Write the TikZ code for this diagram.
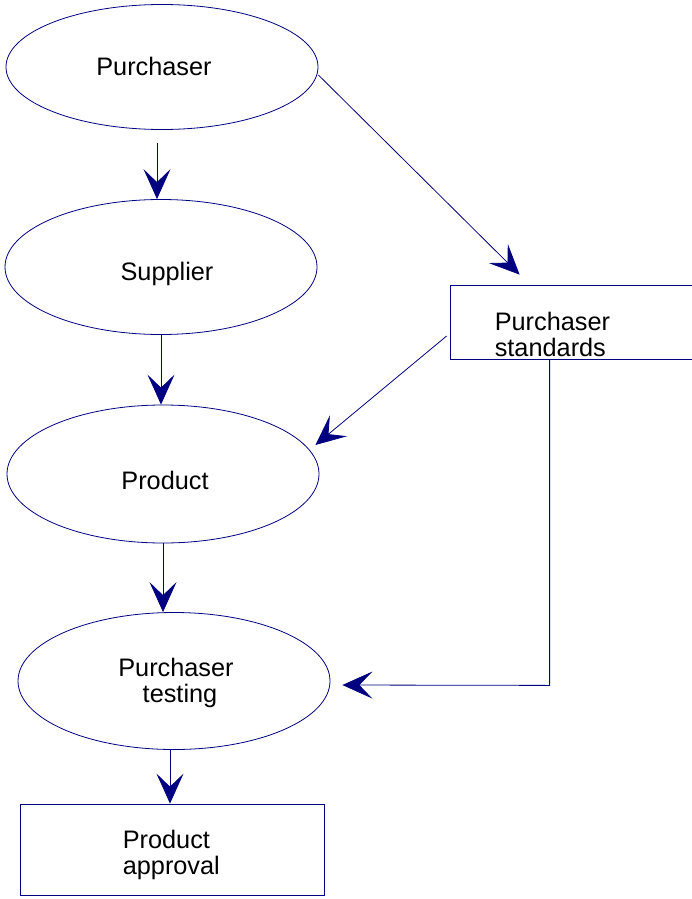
\documentclass[tikz,border=0pt]{standalone}
\usepackage{fontspec}
\setmainfont{Liberation Sans}
\usetikzlibrary{arrows.meta, shapes.geometric, calc}
\definecolor{navy}{RGB}{0,0,128}

\begin{document}
\begin{tikzpicture}[x=1pt, y=-1pt,
	txt/.style={inner sep=0pt, font=\fontsize{25.3}{26}\selectfont},
	ell/.style={draw=navy, ellipse, line width=0.8pt, minimum width=312pt, inner sep=0pt},
	box/.style={draw=navy, rectangle, line width=0.8pt, inner sep=0pt},
	flow/.style={draw=navy, line width=0.8pt, -{Stealth[length=30pt, width=27pt, inset=13pt]}}]
	\clip (0,0) rectangle (692,899);
	\useasboundingbox (0,0) rectangle (692,899);
	\node [ell, minimum height=125pt, label={[txt, xshift=-8pt, yshift=1pt]center:Purchaser}] (purch) at (162,67) {};
	\node [ell, minimum height=135pt, label={[txt, xshift=6pt, yshift=-7pt]center:Supplier}] (supp) at (161,267) {};
	\node [ell, minimum height=138pt, label={[txt, xshift=2pt, yshift=-6pt]center:Product}] (prod) at (163,474) {};
	\node [ell, minimum height=137pt, label={[txt, align=center, xshift=2pt, yshift=-2pt]center:Purchaser\\\hspace*{8pt}testing}] (test) at (174,681) {};
	\node [box, minimum width=270pt, minimum height=74pt, label={[txt, align=left, anchor=west, xshift=45pt, yshift=-12pt]west:Purchaser\\standards}] (std) at (585,322) {};
	\node [box, minimum width=304pt, minimum height=91pt, label={[txt, align=left, anchor=west, xshift=103pt, yshift=-5pt]west:Product\\approval}] (appr) at (172,849.5) {};
	\coordinate (turn) at ($(std.south west)+(100,326)$);
	\draw [flow] ($(purch.south)+(-5,13)$) -- ($(supp.north)+(-4,0)$);
	\draw [flow] (supp.south) -- (supp.south |- prod.north);
	\draw [flow] (prod.south) -- (prod.south |- test.north);
	\draw [flow] ($(test.south)+(-4,0)$) -- ($(test.south |- appr.north)+(-4,0)$);
	\draw [flow] ($(purch.east)+(0,8)$) -- ($(std.north west)+(70,-10)$);
	\draw [flow] ($(std.west)+(-3,14)$) -- ($(prod.east)+(-4,-29)$);
	\draw [flow] (std.south -| turn) -- (turn) -- ($(test.east)+(12,4)$);
\end{tikzpicture}
\end{document}
